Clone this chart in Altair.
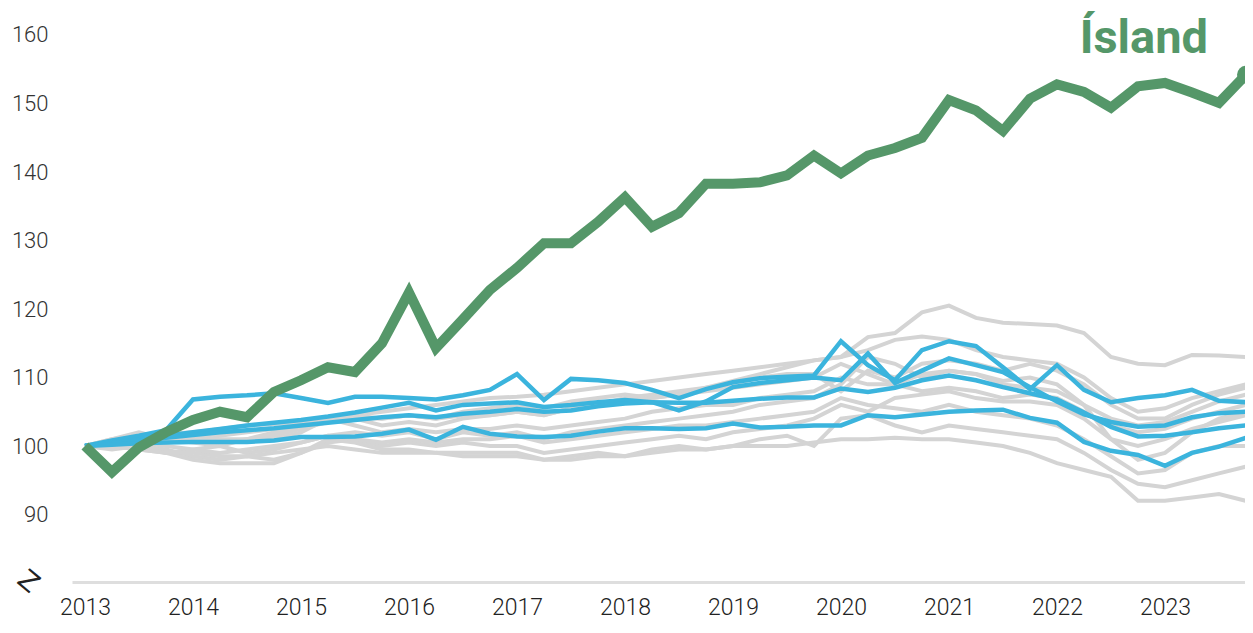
import altair as alt
import pandas as pd

quarters = [2013 + i / 4 for i in range(44)]

island = [100, 96.2, 99.8, 102, 103.8, 105, 104.2, 107.9, 109.6, 111.5, 110.8, 115,
          122.4, 114.3, 118.5, 122.8, 126, 129.6, 129.6, 132.7, 136.3, 132, 134, 138.3,
          138.3, 138.5, 139.5, 142.4, 139.8, 142.4, 143.5, 145, 150.5, 149, 146, 150.7,
          152.8, 151.7, 149.4, 152.5, 153, 151.6, 150.1, 154.2]

blue_a = [100, 100.8, 101.5, 102.3, 106.8, 107.2, 107.4, 107.7, 107, 106.3, 107.2, 107.2,
          107, 106.8, 107.4, 108.2, 110.5, 106.7, 109.8, 109.6, 109.2, 108.2, 107, 108.3,
          109.3, 109.9, 110.1, 110.3, 115.3, 111.8, 109.6, 114, 115.3, 114.6, 111.5, 108.3,
          111.8, 108.2, 106.4, 107, 107.4, 108.2, 106.6, 106.4]
blue_b = [100, 100.5, 101, 101.5, 102, 102.5, 103, 103.4, 103.8, 104.3, 104.9, 105.6,
          106.3, 105.2, 106, 106.2, 106.4, 105.7, 106, 106.4, 106.7, 106.4, 105.2, 106.5,
          108.6, 109.2, 109.6, 110, 109.6, 113.5, 109.2, 111, 112.8, 111.8, 110.8, 108.6,
          106.5, 104.6, 103.5, 102.8, 103, 104.2, 104.8, 105]
blue_c = [100, 100.4, 100.8, 101.2, 101.6, 102, 102.3, 102.6, 103, 103.4, 103.8, 104.2,
          104.5, 104.2, 104.7, 105, 105.4, 105, 105.2, 105.8, 106.2, 106.4, 106.3, 106.3,
          106.6, 106.9, 107.1, 107.1, 108.4, 107.9, 108.5, 109.6, 110.3, 109.6, 108.6, 107.7,
          106.8, 104.9, 102.8, 101.4, 101.5, 102, 102.6, 103]
blue_d = [100, 100.2, 100.4, 100.5, 100.6, 100.6, 100.6, 100.8, 101.3, 101.3, 101.4, 101.8,
          102.4, 100.9, 102.8, 101.8, 101.4, 101.3, 101.5, 102.1, 102.6, 102.6, 102.5, 102.6,
          103.3, 102.7, 102.8, 103, 103, 104.5, 104.2, 104.6, 105, 105.2, 105.3, 104.1,
          103.4, 100.6, 99.3, 98.7, 97.1, 99, 99.9, 101.2]

gray_1 = [100, 100.5, 101, 101.5, 102, 101.5, 102, 102.5, 103, 103.5, 104, 104,
          104.5, 104, 105, 105.5, 106, 105.5, 106.5, 107, 107.5, 107, 107.5, 108.5,
          109.5, 110.5, 111.5, 112.5, 113, 115.9, 116.5, 119.5, 120.5, 118.7, 118, 117.8,
          117.6, 116.5, 113, 112, 111.8, 113.3, 113.2, 113]
gray_2 = [100, 100.8, 101.5, 101.8, 102, 102.5, 103, 103.2, 103.5, 104, 104.5, 105,
          105.5, 106, 106.5, 107, 107.2, 107.5, 108, 108.5, 109, 109.5, 110, 110.5,
          111, 111.5, 112, 112.5, 113, 114, 115.5, 116, 115.5, 114, 113, 112.5,
          112, 110, 107, 105, 105.5, 107, 108, 109]
gray_3 = [100, 101, 102, 101, 100.5, 100, 101, 101.5, 102.5, 103.5, 104, 103,
          103.5, 103, 104, 104.5, 105, 104.5, 105.5, 106, 107, 107.5, 108, 108.5,
          109, 110, 110.5, 110.5, 108, 111, 110, 112, 112.5, 112, 111, 112,
          111, 109, 106, 104, 104, 106, 107.5, 108.5]
gray_4 = [100, 100.5, 100, 99, 99.5, 100, 99, 99.5, 100.5, 101.5, 102, 101.5,
          102, 101, 102, 101.5, 102, 101, 102, 102.5, 103, 103.5, 104, 104.5,
          105, 106, 106.5, 107, 109, 113, 112, 110, 111, 110.5, 109.5, 110,
          109, 106, 101, 98, 99, 102, 104, 105]
gray_5 = [100, 99.5, 100, 99.5, 98.5, 98, 98.5, 98, 99, 100.5, 101, 100,
          100.5, 100, 100.5, 100, 100, 99, 99.5, 100, 100.5, 101, 101.5, 101,
          102, 102.5, 103, 104, 106, 105, 107, 107.5, 108, 107, 106.5, 106.5,
          106, 104, 101, 100, 101, 102.5, 103.5, 104.5]
gray_6 = [100, 100, 99.5, 99, 98, 97.5, 97.5, 97.5, 99, 101, 100.5, 99.5,
          99.5, 99, 99, 99, 99, 98, 98.5, 99, 98.5, 99.5, 100, 99.5,
          100, 101, 101.5, 100, 104, 104.5, 103, 102, 103, 102.5, 102, 101.5,
          101, 99, 96.5, 94.5, 94, 95, 96, 97]
gray_7 = [100, 100, 99.5, 99, 99, 98.5, 98.5, 99, 99.5, 100, 99.5, 99,
          99, 99, 98.5, 98.5, 98.5, 98, 98, 98.5, 98.5, 99, 99.5, 99.5,
          100, 100, 100, 100.5, 101, 101, 101.2, 101, 101, 100.5, 100, 99,
          97.5, 96.5, 95.5, 92, 92, 92.5, 93, 92]
gray_8 = [100, 100.5, 101.5, 102, 101.5, 101, 101, 101, 102, 104, 103, 102,
          102.5, 102, 102.5, 102.5, 103, 102.5, 103, 103.5, 104, 105, 105.5, 106,
          106, 107, 107.5, 108, 110, 109, 109, 108, 108.5, 108, 107, 107.5,
          107, 105, 103, 102, 102.5, 104, 105, 106]
gray_9 = [100, 101, 101.5, 101, 101, 100.5, 101, 102, 103, 103.5, 104.5, 104,
          104.5, 104, 104.5, 104.5, 105, 104.5, 105.5, 106, 106.5, 107, 107.5, 108,
          108.5, 109, 109.5, 110, 112, 110.5, 109, 110.5, 111, 110.5, 109, 108.5,
          108, 106, 104, 103, 103.5, 105, 106.5, 107.5]
gray_10 = [100, 100.5, 100.5, 100, 99.5, 99, 99.5, 100, 100.5, 101.5, 101, 100.5,
           101, 100.5, 101, 101, 101.5, 100.5, 101, 101.5, 102, 102.5, 103, 103,
           103.5, 104, 104.5, 105, 107, 106, 105.5, 105, 106, 105, 104.5, 104,
           103, 101, 98.5, 96, 96.5, 99, 100, 100]

year_ticks = list(range(2013, 2024))
value_ticks = [90, 100, 110, 120, 130, 140, 150, 160]
label_text = "Ísland"

grays = {"g1": gray_1, "g2": gray_2, "g3": gray_3, "g4": gray_4, "g5": gray_5,
         "g6": gray_6, "g7": gray_7, "g8": gray_8, "g9": gray_9, "g10": gray_10}
blues = {"b1": blue_a, "b2": blue_b, "b3": blue_c, "b4": blue_d}


def long(d):
    rows = []
    for name, vals in d.items():
        for t, v in zip(quarters, vals):
            rows.append({"series": name, "t": t, "value": v})
    return pd.DataFrame(rows)


gray_df = long(grays)
blue_df = long(blues)
green_df = long({"Ísland": island})
last_df = green_df.tail(1)

x_scale = alt.Scale(domain=[2012.88, 2023.741], nice=False, zero=False)
y_scale = alt.Scale(domain=[80.15, 163.94], nice=False, zero=False)

FONT = "Roboto"

x_enc = alt.X("t:Q", scale=x_scale, axis=alt.Axis(
    values=year_ticks, format="d", title=None, grid=False, ticks=False,
    domain=True, domainColor="#dedede", domainWidth=3,
    labelFont=FONT, labelFontSize=23, labelFontWeight=300, labelColor="#222222",
    labelPadding=14, labelFlush=False))
y_enc = alt.Y("value:Q", scale=y_scale, axis=alt.Axis(
    values=value_ticks, title=None, grid=False, ticks=False, domain=False,
    labelFont=FONT, labelFontSize=22, labelFontWeight=300, labelColor="#333333",
    labelPadding=24))

gray_layer = alt.Chart(gray_df).mark_line(
    color="#d4d4d4", strokeWidth=4, strokeJoin="miter").encode(
    x=x_enc, y=y_enc, detail="series:N")
blue_layer = alt.Chart(blue_df).mark_line(
    color="#3bb4dd", strokeWidth=4.5, strokeJoin="miter").encode(
    x="t:Q", y="value:Q", detail="series:N")
green_layer = alt.Chart(green_df).mark_line(
    color="#559769", strokeWidth=10, strokeJoin="miter").encode(
    x="t:Q", y="value:Q")
green_dot = alt.Chart(last_df).mark_point(
    filled=True, color="#559769", size=320, opacity=1).encode(
    x="t:Q", y="value:Q")
label = alt.Chart(last_df).mark_text(
    text=label_text, font=FONT, fontSize=47, fontWeight="bold", color="#559769",
    align="right", baseline="alphabetic").encode(
    x=alt.value(1136), y=alt.value(45))
brk = alt.Chart(last_df).mark_text(
    text="Z", font="DejaVu Sans", fontSize=27, fontWeight="normal", color="#222222",
    angle=40, align="center", baseline="middle").encode(
    x=alt.value(-44), y=alt.value(574))

chart = alt.layer(gray_layer, blue_layer, green_layer, green_dot, label, brk).properties(
    width=1173, height=574,
    autosize=alt.AutoSizeParams(type="none"),
    padding={"left": 64, "top": 0, "right": 0, "bottom": 43},
).configure(background="white").configure_view(strokeWidth=0, stroke="transparent")

chart.save("out.html", embed_options={"renderer": "svg", "actions": False})
